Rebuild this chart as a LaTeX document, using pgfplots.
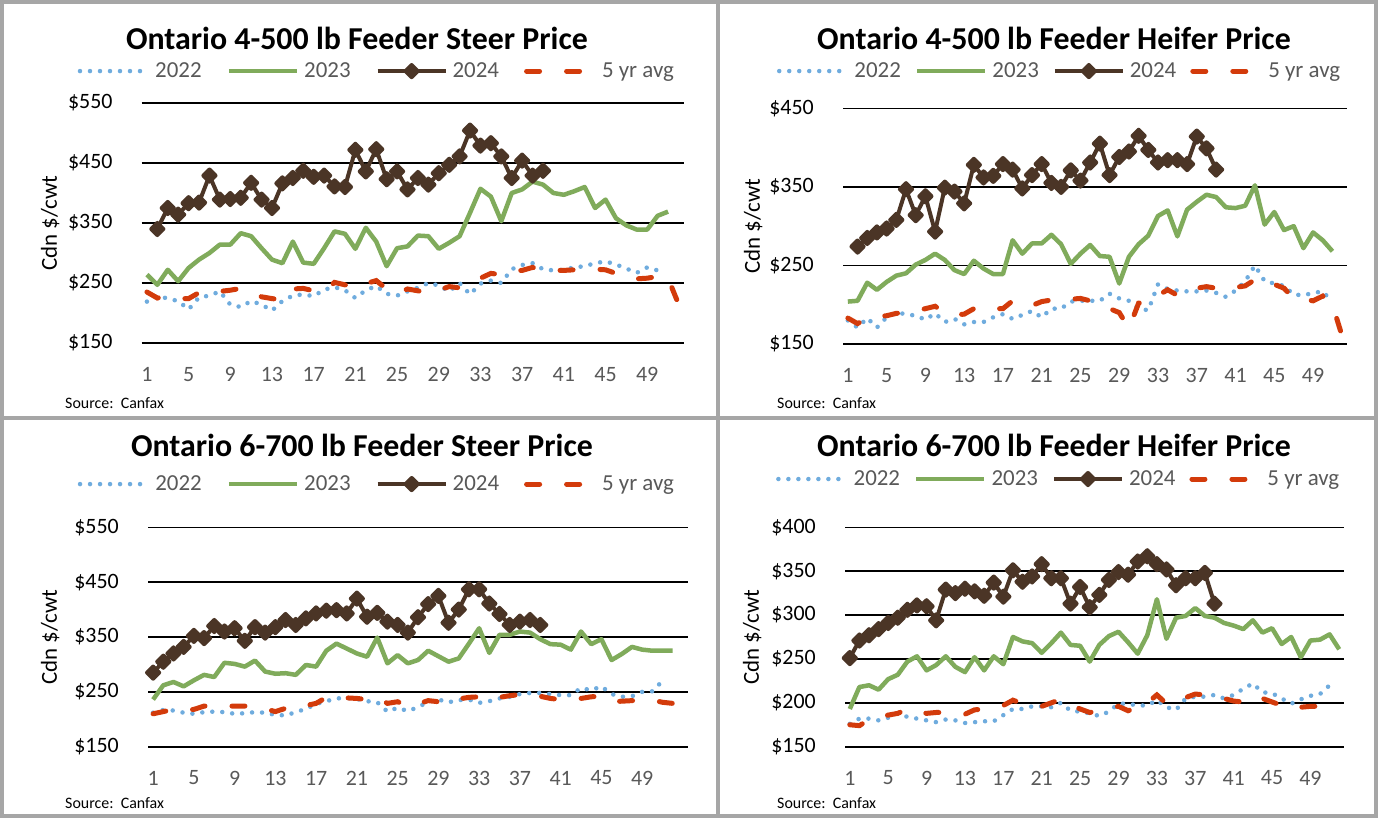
\documentclass[border=0pt]{standalone}
\usepackage{pgfplots}
\pgfplotsset{compat=1.18}
\usepackage{fontspec}
\setmainfont{Carlito}
\definecolor{c22}{HTML}{6FACDE}
\definecolor{c23}{HTML}{80AB5B}
\definecolor{c24}{HTML}{4B3526}
\definecolor{c5}{HTML}{D33B0B}
\definecolor{tickgray}{HTML}{595959}
\definecolor{framegray}{HTML}{A6A6A6}
\pgfplotsset{
  s22/.style={color=c22, line width=4.5bp, line cap=round, dash pattern=on 0bp off 10bp, no marks},
  s23/.style={color=c23, line width=4.5bp, line join=round, no marks},
  s24/.style={color=c24, line width=4bp, line join=round, mark=square*, mark size=4.3bp, mark options={solid, rotate=45}},
  s5/.style={color=c5, line width=5bp, line cap=round, dash pattern=on 13bp off 27bp, no marks},
  panel/.style={
    scale only axis,
    axis line style={draw=none},
    major tick length=0pt,
    ymajorgrids,
    grid style={black, line width=1.6bp},
    xtick={1,5,...,49},
    xmin=0.5, xmax=52.5,
    /pgf/number format/assume math mode=true,
    tick label style={font=\fontsize{22}{24}\selectfont},
    xticklabel style={text=tickgray, anchor=north, inner sep=0pt, yshift=-24bp},
    yticklabel style={anchor=east, inner sep=0pt, xshift=-29bp},
    yticklabel={\$\pgfmathprintnumber{\tick}},
    ylabel={Cdn \$/cwt},
    every axis y label/.style={rotate=90, anchor=center, font=\fontsize{23}{25}\selectfont},
    legend columns=4,
    legend style={draw=none, fill=none, inner sep=0pt, outer sep=0pt, anchor=west,
      font=\fontsize{23}{25}\selectfont, text=tickgray,
      /tikz/every odd column/.append style={column sep=3bp},
      /tikz/every even column/.append style={column sep=23bp}},
    legend image code/.code={\draw[mark repeat=2, mark phase=2, ##1] plot coordinates {(0bp,0bp) (34bp,0bp) (68bp,0bp)};},
  },
  narrowlegend/.style={legend style={/tikz/every even column/.append style={column sep=12bp}}}
}
\begin{document}
\begin{tikzpicture}
\useasboundingbox (0,0) rectangle (1378bp,-818bp);
\fill[white] (0,0) rectangle (1378bp,-818bp);
% ---------------- Panel 1
\begin{axis}[panel, at={(141.7bp,-343bp)}, anchor=south west, width=542bp, height=240bp,
  ymin=150, ymax=550, ytick={150,250,350,450,550},
  y label style={at={(axis description cs:-0.169,0.5)}},
  legend style={at={(-0.118,1.133)}}]
\addplot[s22] coordinates {(1,219)(2,229)(3,224)(4,220)(5,206)(6,226)(7,229)(8,236)(9,214)(10,210)(11,220)(12,214)(13,204)(14,220)(15,229)(16,231)(17,228)(18,239)(19,243)(20,238)(21,225)(22,238)(23,245)(24,232)(25,229)(26,236)(27,242)(28,250)(29,246)(30,236)(31,250)(32,231)(33,249)(34,254)(35,250)(36,273)(37,280)(38,283)(39,273)(40,271)(41,272)(42,276)(43,278)(44,283)(45,286)(46,281)(47,274)(48,267)(49,276)(50,271)};
\addlegendentry{2022}
\addplot[s23] coordinates {(1,264)(2,247)(3,272)(4,253)(5,275)(6,289)(7,300)(8,314)(9,314)(10,333)(11,328)(12,308)(13,289)(14,283)(15,319)(16,284)(17,282)(18,308)(19,336)(20,332)(21,307)(22,342)(23,319)(24,278)(25,308)(26,311)(27,329)(28,328)(29,307)(30,317)(31,328)(32,367)(33,407)(34,394)(35,353)(36,400)(37,406)(38,419)(39,414)(40,400)(41,397)(42,403)(43,410)(44,375)(45,389)(46,358)(47,346)(48,339)(49,339)(50,362)(51,369)};
\addlegendentry{2023}
\addplot[s24] coordinates {(2,340)(3,375)(4,364)(5,383)(6,384)(7,429)(8,389)(9,390)(10,392)(11,417)(12,389)(13,375)(14,416)(15,425)(16,437)(17,427)(18,429)(19,411)(20,410)(21,472)(22,436)(23,473)(24,423)(25,436)(26,406)(27,425)(28,414)(29,433)(30,447)(31,461)(32,504)(33,479)(34,483)(35,461)(36,425)(37,454)(38,429)(39,437)};
\addlegendentry{2024}
\addplot[s5] coordinates {(1,235)(2,225)(3,228)(4,224)(5,224)(6,234)(7,237)(8,236)(9,238)(10,241)(11,236)(12,227)(13,224)(14,222)(15,240)(16,241)(17,237)(18,236)(19,251)(20,247)(21,242)(22,249)(23,254)(24,240)(25,233)(26,240)(27,237)(28,233)(29,238)(30,244)(31,242)(32,251)(33,258)(34,266)(35,264)(36,270)(37,271)(38,276)(39,272)(40,271)(41,271)(42,272)(43,273)(44,273)(45,272)(46,266)(47,259)(48,257)(49,258)(50,261)(51,258)(52,215)};
\addlegendentry{5 yr avg}
\end{axis}
% ---------------- Panel 2
\begin{axis}[panel, narrowlegend, at={(843bp,-344bp)}, anchor=south west, width=504bp, height=235.7bp,
  ymin=150, ymax=450, ytick={150,250,350,450},
  y label style={at={(axis description cs:-0.178,0.5)}},
  legend style={at={(-0.131,1.158)}}]
\addplot[s22] coordinates {(1,180)(2,171)(3,183)(4,171)(5,184)(6,190)(7,188)(8,186)(9,181)(10,189)(11,178)(12,182)(13,175)(14,178)(15,178)(16,184)(17,188)(18,182)(19,187)(20,192)(21,184)(22,195)(23,195)(24,204)(25,205)(26,205)(27,205)(28,214)(29,208)(30,205)(31,195)(32,193)(33,226)(34,220)(35,218)(36,217)(37,217)(38,218)(39,215)(40,210)(41,218)(42,230)(43,250)(44,230)(45,227)(46,224)(47,213)(48,212)(49,215)(50,217)(51,203)};
\addlegendentry{2022}
\addplot[s23] coordinates {(1,204)(2,205)(3,228)(4,219)(5,229)(6,237)(7,240)(8,251)(9,257)(10,265)(11,257)(12,244)(13,239)(14,256)(15,246)(16,239)(17,239)(18,282)(19,265)(20,278)(21,278)(22,289)(23,277)(24,252)(25,265)(26,276)(27,262)(28,261)(29,227)(30,261)(31,277)(32,288)(33,313)(34,320)(35,287)(36,321)(37,331)(38,340)(39,337)(40,324)(41,323)(42,326)(43,352)(44,302)(45,318)(46,295)(47,300)(48,272)(49,292)(50,282)(51,268)};
\addlegendentry{2023}
\addplot[s24] coordinates {(2,274)(3,285)(4,292)(5,297)(6,308)(7,347)(8,314)(9,338)(10,293)(11,349)(12,344)(13,329)(14,378)(15,362)(16,364)(17,379)(18,372)(19,348)(20,365)(21,379)(22,355)(23,350)(24,371)(25,358)(26,381)(27,405)(28,365)(29,388)(30,395)(31,415)(32,397)(33,381)(34,384)(35,384)(36,379)(37,414)(38,399)(39,372)};
\addlegendentry{2024}
\addplot[s5] coordinates {(1,183)(2,176)(3,183)(4,185)(5,186)(6,189)(7,190)(8,192)(9,195)(10,198)(11,190)(12,187)(13,188)(14,195)(15,198)(16,195)(17,195)(18,205)(19,204)(20,199)(21,204)(22,206)(23,206)(24,207)(25,208)(26,205)(27,198)(28,195)(29,190)(30,170)(31,202)(32,204)(33,212)(34,219)(35,212)(36,218)(37,221)(38,223)(39,221)(40,220)(41,222)(42,224)(43,232)(44,226)(45,226)(46,221)(47,208)(48,207)(49,205)(50,211)(51,200)(52,160)};
\addlegendentry{5 yr avg}
\end{axis}
% ---------------- Panel 3
\begin{axis}[panel, at={(148bp,-746.7bp)}, anchor=south west, width=540bp, height=219.4bp,
  xmax=53.5,
  ymin=150, ymax=550, ytick={150,250,350,450,550},
  y label style={at={(axis description cs:-0.181,0.5)}},
  legend style={at={(-0.13,1.197)}}]
\addplot[s22] coordinates {(1,212)(2,217)(3,216)(4,212)(5,210)(6,213)(7,214)(8,213)(9,210)(10,211)(11,213)(12,212)(13,208)(14,207)(15,213)(16,219)(17,228)(18,233)(19,238)(20,239)(21,237)(22,233)(23,231)(24,214)(25,221)(26,215)(27,222)(28,232)(29,236)(30,231)(31,235)(32,236)(33,230)(34,233)(35,238)(36,241)(37,246)(38,248)(39,248)(40,246)(41,244)(42,244)(43,257)(44,253)(45,260)(46,246)(47,241)(48,242)(49,250)(50,251)(51,270)};
\addlegendentry{2022}
\addplot[s23] coordinates {(1,236)(2,262)(3,268)(4,260)(5,271)(6,281)(7,277)(8,303)(9,301)(10,296)(11,307)(12,287)(13,283)(14,284)(15,281)(16,299)(17,296)(18,325)(19,338)(20,329)(21,320)(22,314)(23,349)(24,302)(25,317)(26,302)(27,308)(28,325)(29,315)(30,305)(31,311)(32,338)(33,366)(34,321)(35,354)(36,354)(37,360)(38,358)(39,346)(40,337)(41,336)(42,327)(43,360)(44,337)(45,346)(46,308)(47,319)(48,332)(49,327)(50,325)(51,325)(52,325)};
\addlegendentry{2023}
\addplot[s24] coordinates {(1,285)(2,305)(3,320)(4,332)(5,352)(6,348)(7,370)(8,360)(9,366)(10,343)(11,368)(12,358)(13,368)(14,381)(15,372)(16,384)(17,393)(18,398)(19,399)(20,393)(21,420)(22,387)(23,394)(24,378)(25,372)(26,358)(27,386)(28,410)(29,425)(30,376)(31,400)(32,437)(33,437)(34,411)(35,392)(36,372)(37,378)(38,381)(39,372)};
\addlegendentry{2024}
\addplot[s5] coordinates {(1,210)(2,214)(3,218)(4,216)(5,218)(6,224)(7,225)(8,224)(9,224)(10,224)(11,223)(12,219)(13,214)(14,220)(15,227)(16,225)(17,229)(18,240)(19,241)(20,239)(21,238)(22,236)(23,240)(24,229)(25,232)(26,223)(27,228)(28,234)(29,232)(30,229)(31,237)(32,240)(33,241)(34,236)(35,240)(36,243)(37,245)(38,247)(39,242)(40,238)(41,236)(42,235)(43,238)(44,241)(45,242)(46,232)(47,233)(48,234)(49,235)(50,235)(51,231)(52,229)};
\addlegendentry{5 yr avg}
\end{axis}
% ---------------- Panel 4
\begin{axis}[panel, narrowlegend, at={(845bp,-746.7bp)}, anchor=south west, width=499bp, height=219.4bp,
  ymin=150, ymax=400, ytick={150,200,250,300,350,400},
  y label style={at={(axis description cs:-0.186,0.5)}},
  legend style={at={(-0.138,1.22)}}]
\addplot[s22] coordinates {(1,176)(2,182)(3,182)(4,180)(5,183)(6,188)(7,184)(8,182)(9,180)(10,178)(11,181)(12,180)(13,177)(14,178)(15,179)(16,179)(17,186)(18,193)(19,193)(20,196)(21,196)(22,195)(23,200)(24,191)(25,190)(26,188)(27,185)(28,190)(29,199)(30,199)(31,197)(32,197)(33,203)(34,195)(35,192)(36,205)(37,207)(38,207)(39,209)(40,205)(41,209)(42,216)(43,222)(44,212)(45,211)(46,205)(47,199)(48,204)(49,208)(50,210)(51,220)};
\addlegendentry{2022}
\addplot[s23] coordinates {(1,193)(2,218)(3,220)(4,215)(5,227)(6,232)(7,247)(8,253)(9,237)(10,243)(11,253)(12,241)(13,235)(14,252)(15,237)(16,253)(17,244)(18,275)(19,270)(20,268)(21,257)(22,268)(23,280)(24,266)(25,265)(26,247)(27,266)(28,276)(29,281)(30,269)(31,256)(32,277)(33,318)(34,273)(35,297)(36,299)(37,308)(38,299)(39,297)(40,291)(41,288)(42,284)(43,294)(44,280)(45,285)(46,267)(47,275)(48,252)(49,271)(50,272)(51,278)(52,261)};
\addlegendentry{2023}
\addplot[s24] coordinates {(1,251)(2,271)(3,277)(4,284)(5,291)(6,297)(7,306)(8,311)(9,310)(10,294)(11,329)(12,325)(13,330)(14,327)(15,322)(16,337)(17,321)(18,351)(19,338)(20,344)(21,358)(22,342)(23,342)(24,313)(25,332)(26,309)(27,323)(28,340)(29,349)(30,346)(31,361)(32,367)(33,358)(34,352)(35,334)(36,342)(37,342)(38,348)(39,313)};
\addlegendentry{2024}
\addplot[s5] coordinates {(1,175)(2,174)(3,181)(4,184)(5,186)(6,188)(7,193)(8,190)(9,188)(10,189)(11,189)(12,188)(13,187)(14,192)(15,193)(16,195)(17,197)(18,203)(19,199)(20,197)(21,196)(22,200)(23,204)(24,198)(25,193)(26,189)(27,191)(28,194)(29,196)(30,191)(31,195)(32,200)(33,209)(34,199)(35,201)(36,206)(37,210)(38,209)(39,208)(40,205)(41,202)(42,201)(43,208)(44,205)(45,201)(46,197)(47,193)(48,195)(49,196)(50,196)(51,196)};
\addlegendentry{5 yr avg}
\end{axis}
% ---------------- titles, sources, frames
\begin{scope}[every node/.style={inner sep=0pt}]
\node[font=\fontsize{32}{35}\selectfont\bfseries] at (357bp,-38bp) {Ontario 4-500 lb Feeder Steer Price};
\node[font=\fontsize{32}{35}\selectfont\bfseries] at (1054bp,-38bp) {Ontario 4-500 lb Feeder Heifer Price};
\node[font=\fontsize{32}{35}\selectfont\bfseries] at (362bp,-445bp) {Ontario 6-700 lb Feeder Steer Price};
\node[font=\fontsize{32}{35}\selectfont\bfseries] at (1054bp,-445bp) {Ontario 6-700 lb Feeder Heifer Price};
\node[anchor=west, font=\fontsize{16}{18}\selectfont] at (65bp,-403bp) {Source:\ \ Canfax};
\node[anchor=west, font=\fontsize{16}{18}\selectfont] at (777bp,-403bp) {Source:\ \ Canfax};
\node[anchor=west, font=\fontsize{16}{18}\selectfont] at (65bp,-803bp) {Source:\ \ Canfax};
\node[anchor=west, font=\fontsize{16}{18}\selectfont] at (777bp,-803bp) {Source:\ \ Canfax};
\end{scope}
\draw[framegray, line width=4bp] (2bp,-2bp) rectangle (1376bp,-816bp);
\draw[framegray, line width=4bp] (718bp,-2bp) -- (718bp,-816bp);
\draw[framegray, line width=4bp] (2bp,-418bp) -- (1376bp,-418bp);
\end{tikzpicture}
\end{document}
